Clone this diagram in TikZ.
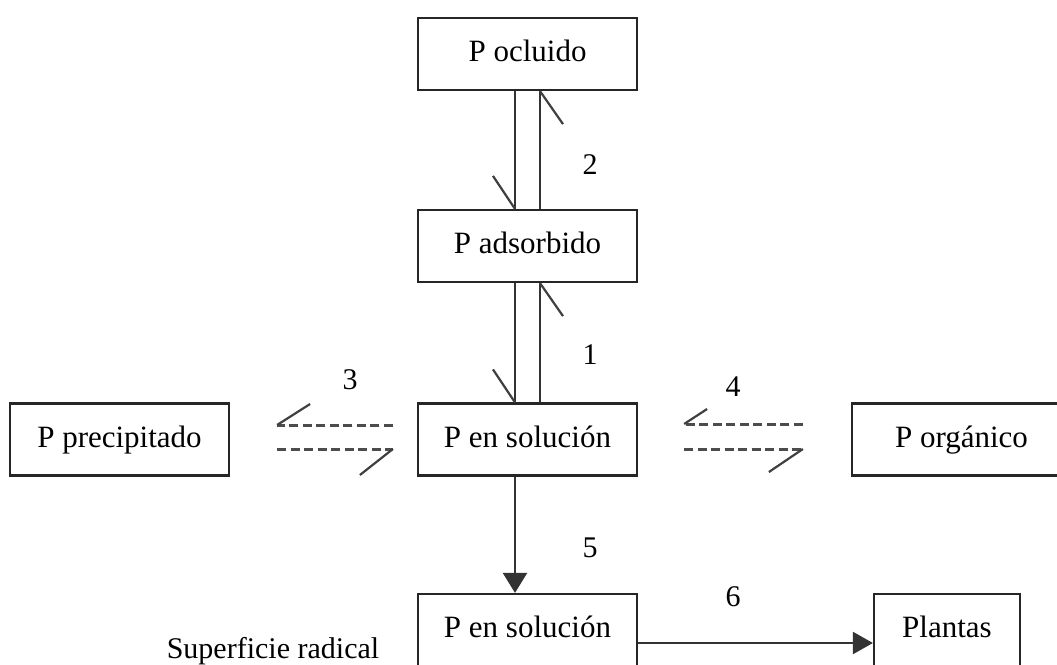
\documentclass[tikz,border=0pt]{standalone}
\usepackage{fontspec}
\setmainfont{Liberation Serif}
\usetikzlibrary{arrows.meta}
\begin{document}
\begin{tikzpicture}[x=1pt,y=-1pt,
  box/.style={draw=black!85,line width=2.2pt,minimum width=219pt,minimum height=72pt,inner sep=0pt,
    font=\fontsize{31}{36}\selectfont,text height=23pt,text depth=8pt},
  lbl/.style={font=\fontsize{30}{35}\selectfont,inner sep=0pt},
  ln/.style={draw=black!80,line width=2.2pt},
  barb/.style={draw=black!75,line width=2.2pt},
  dsh/.style={draw=black!70,line width=3pt,dash pattern=on 9pt off 4.5pt},
  bigtip/.style={-{Triangle[width=24pt,length=20pt]}}]
\useasboundingbox (0,0) rectangle (1057,664);
\clip (0,0) rectangle (1057,664);
\fill[white] (0,0) rectangle (1057,664);
% boxes
\node[box] (ocl) at (527.5,54) {P ocluido};
\node[box] (ads) at (527.5,246) {P adsorbido};
\node[box] (sol) at (527.5,439.5) {P en solución};
\node[box] (pre) at (119.5,439.5) {P precipitado};
\node[box] (org) at (961.5,439.5) {P orgánico};
\node[box] (sol2) at (527.5,630) {P en solución};
\node[box,minimum width=146pt] (pla) at (947,630) {Plantas};
\node[lbl,anchor=base] (sup) at (273,658) {Superficie radical};
% ocluido <-> adsorbido
\draw[ln] ([xshift=-12.5pt]ocl.south) -- ([xshift=-12.5pt]ads.north) coordinate (a1);
\draw[barb] (a1) -- ++(-22,-33);
\draw[ln] ([xshift=12.5pt]ads.north) -- ([xshift=12.5pt]ocl.south) coordinate (a2);
\draw[barb] (a2) -- ++(23,33);
% adsorbido <-> solucion
\draw[ln] ([xshift=-12.5pt]ads.south) -- ([xshift=-12.5pt]sol.north) coordinate (b1);
\draw[barb] (b1) -- ++(-22,-33);
\draw[ln] ([xshift=12.5pt]sol.north) -- ([xshift=12.5pt]ads.south) coordinate (b2);
\draw[barb] (b2) -- ++(23,33);
% precipitado <-> solucion
\draw[dsh] ([xshift=-24pt,yshift=14.5pt]sol.west) -- ([xshift=47pt,yshift=14.5pt]pre.east) coordinate (c1);
\draw[barb] (c1) -- ++(33,-21);
\draw[dsh] ([xshift=47pt,yshift=-9.5pt]pre.east) -- ([xshift=-24pt,yshift=-9.5pt]sol.west) coordinate (c2);
\draw[barb] (c2) -- ++(-33,26);
% organico <-> solucion
\draw[dsh] ([xshift=-48pt,yshift=15.5pt]org.west) -- ([xshift=46pt,yshift=15.5pt]sol.east) coordinate (d1);
\draw[barb] (d1) -- ++(23,-15);
\draw[dsh] ([xshift=46pt,yshift=-9.5pt]sol.east) -- ([xshift=-48pt,yshift=-9.5pt]org.west) coordinate (d2);
\draw[barb] (d2) -- ++(-34,23);
% 5 and 6
\draw[ln,bigtip] ([xshift=-12.5pt]sol.south) -- ([xshift=-12.5pt]sol2.north);
\draw[ln,-{Triangle[width=22pt,length=20pt]}] ([yshift=-13pt]sol2.east) -- ([yshift=-13pt]pla.west);
% labels
\node[lbl] (n2) at (590,165) {2};
\node[lbl] (n1) at (590,355) {1};
\node[lbl] (n3) at (350,380) {3};
\node[lbl] (n4) at (733,387) {4};
\node[lbl] (n5) at (590,548) {5};
\node[lbl] (n6) at (733,597) {6};
\end{tikzpicture}
\end{document}
